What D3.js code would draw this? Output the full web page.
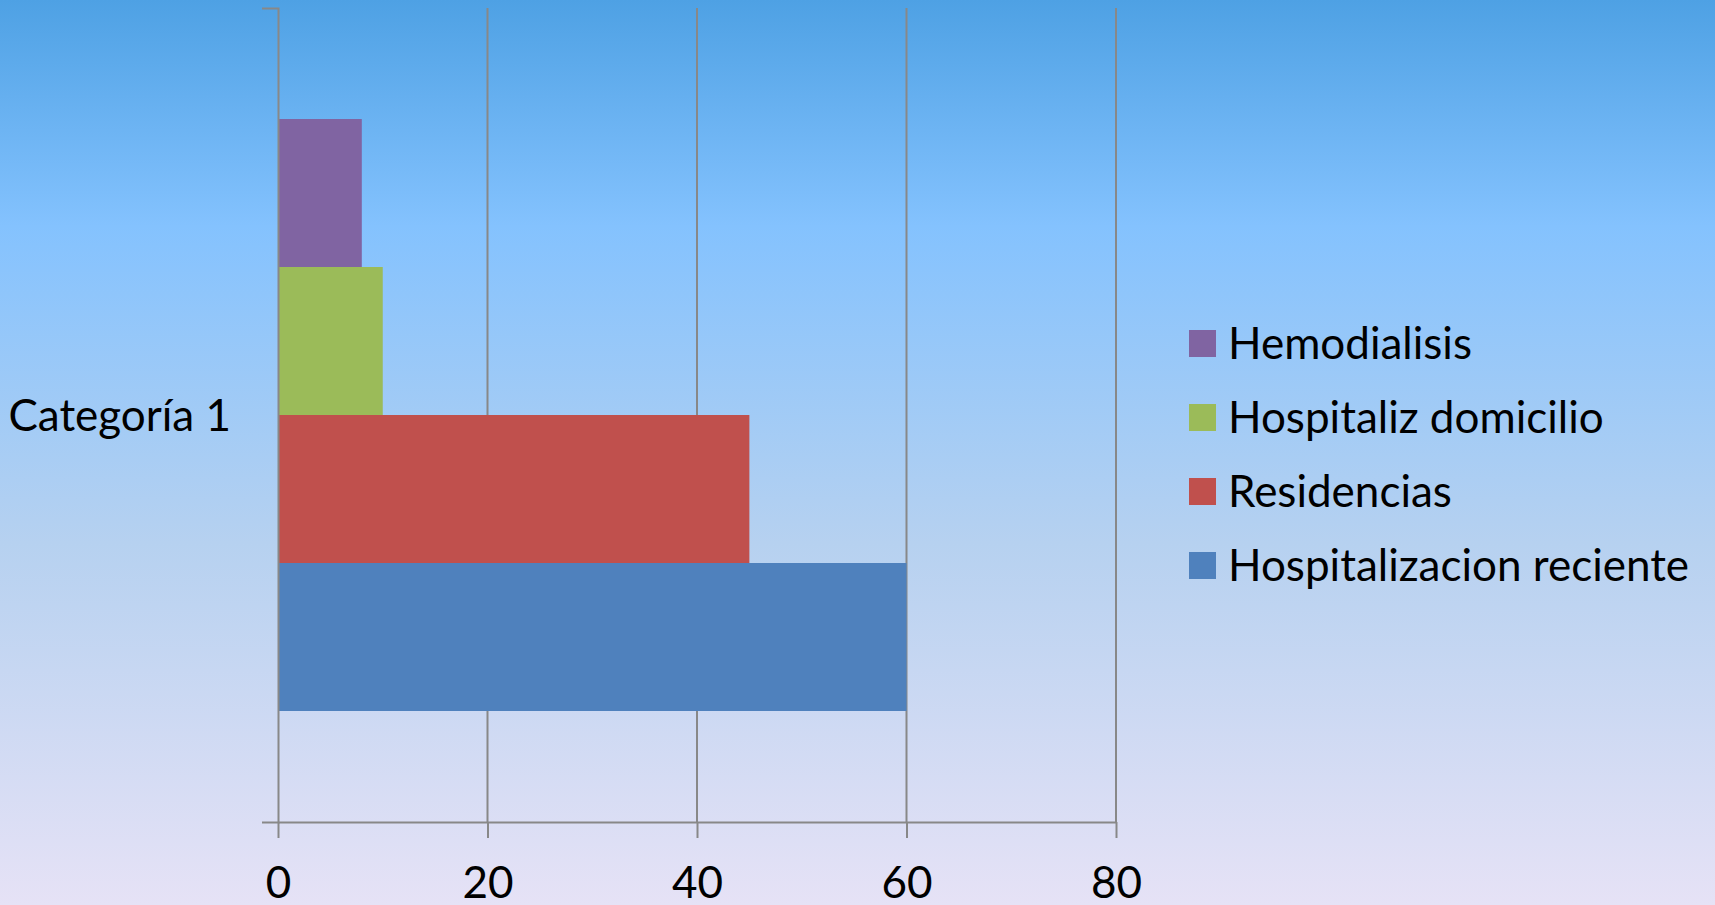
<!DOCTYPE html>
<html>
<head>
<meta charset="utf-8">
<script src="https://cdn.jsdelivr.net/npm/d3@7"></script>
<style>
    body { margin: 0; overflow: hidden; }
    svg { display: block; }
</style>
</head>
<body>
<div id="chart-container"></div>
<script>
const categories = ["Categoría 1"];
const seriesNames = ["Hospitalizacion reciente", "Residencias", "Hospitaliz domicilio", "Hemodialisis"];
const seriesValues = [60, 45, 10, 8];
const xTickValues = [0, 20, 40, 60, 80];

document.addEventListener("DOMContentLoaded", () => {
    const svgW = 1715;
    const svgH = 905;
    const plot = { left: 278, right: 1116, top: 8, bottom: 822 };
    const fontSize = 44;
    const font = "Lato, 'Open Sans', sans-serif";
    const gridColor = "#888888";

    const colorScale = d3.scaleOrdinal()
    .domain(seriesNames)
    .range(["#4F81BD", "#C0504D", "#9BBB59", "#8064A2"]);

    const svg = d3.select("#chart-container")
    .append("svg")
    .attr("width", svgW)
    .attr("height", svgH);

    // background gradient
    const grad = svg.append("defs")
    .append("linearGradient")
    .attr("id", "bg")
    .attr("x1", 0).attr("y1", 0)
    .attr("x2", 0).attr("y2", 1);
    [[0, "#4ea1e4"], [0.25, "#84c2fe"], [0.6, "#b6d1f0"], [1, "#e6e2f6"]].forEach(([o, c]) => {
        grad.append("stop").attr("offset", o).attr("stop-color", c);
    });
    svg.append("rect")
    .attr("width", svgW)
    .attr("height", svgH)
    .attr("fill", "url(#bg)");

    const xScale = d3.scaleLinear()
    .domain([0, d3.max(xTickValues)])
    .range([plot.left, plot.right]);

    const yCat = d3.scaleBand()
    .domain(categories)
    .range([plot.bottom, plot.top]);

    // one band per series inside the category, 150% gap width
    const ySeries = d3.scaleBand()
    .domain(seriesNames)
    .range([yCat(categories[0]) + yCat.bandwidth(), yCat(categories[0])])
    .paddingInner(0)
    .paddingOuter(0.75);

    // gridlines
    svg.append("g")
    .selectAll("line")
    .data(xTickValues.slice(1))
    .enter()
    .append("line")
    .attr("x1", d => xScale(d))
    .attr("x2", d => xScale(d))
    .attr("y1", plot.top)
    .attr("y2", plot.bottom)
    .attr("stroke", gridColor)
    .attr("stroke-width", 2);

    // bars
    svg.append("g")
    .selectAll("rect")
    .data(seriesNames.map((name, i) => ({ name, value: seriesValues[i] })))
    .enter()
    .append("rect")
    .attr("x", xScale(0))
    .attr("y", d => ySeries(d.name))
    .attr("width", d => xScale(d.value) - xScale(0))
    .attr("height", ySeries.bandwidth())
    .attr("fill", d => colorScale(d.name));

    // x axis
    const xAxis = svg.append("g")
    .attr("transform", `translate(0, ${plot.bottom})`)
    .call(d3.axisBottom(xScale).tickValues(xTickValues).tickSizeInner(16).tickSizeOuter(0).tickPadding(29));
    xAxis.selectAll("path, line").attr("stroke", gridColor).attr("stroke-width", 2);
    xAxis.selectAll("text")
    .attr("fill", "#000")
    .style("font-family", font)
    .style("font-size", fontSize + "px");

    // y axis
    const yAxis = svg.append("g")
    .attr("transform", `translate(${plot.left}, 0)`)
    .call(d3.axisLeft(yCat).tickSizeInner(0).tickSizeOuter(16).tickPadding(47));
    yAxis.selectAll("path, line").attr("stroke", gridColor).attr("stroke-width", 2);
    yAxis.selectAll("text")
    .attr("fill", "#000")
    .attr("dy", "0.36em")
    .style("font-family", font)
    .style("font-size", fontSize + "px");

    // legend, last series on top
    const legend = svg.append("g")
    .attr("transform", "translate(1189, 343)");

    const items = legend.selectAll("g")
    .data(seriesNames.slice().reverse())
    .enter()
    .append("g")
    .attr("transform", (_, i) => `translate(0, ${i * 74})`);

    items.append("rect")
    .attr("y", -13)
    .attr("width", 27)
    .attr("height", 27)
    .attr("fill", d => colorScale(d));

    items.append("text")
    .text(d => d)
    .attr("x", 39)
    .attr("dy", "0.36em")
    .style("font-family", font)
    .style("font-size", fontSize + "px");
});
</script>
</body>
</html>
